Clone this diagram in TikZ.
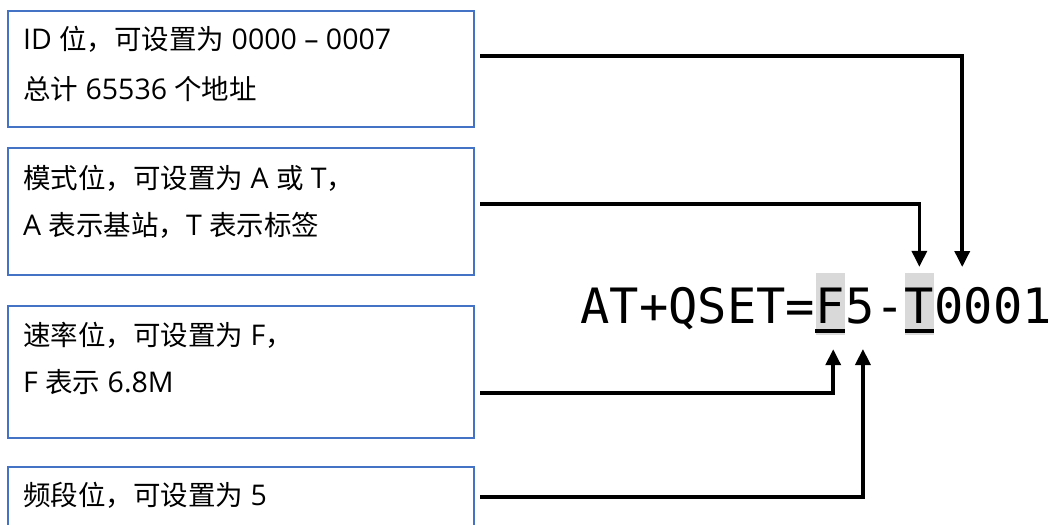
\documentclass[tikz,border=0pt]{standalone}
\usepackage{fontspec}
\usetikzlibrary{arrows.meta,calc}
\newfontfamily\cjk{Noto Sans CJK SC}
\newfontfamily\latn{Open Sans}
\newfontfamily\mono{DejaVu Sans Mono}
\newcommand\zhtxt[1]{{\cjk\fontsize{27.5}{33}\selectfont #1}}
\definecolor{boxblue}{HTML}{4472C4}
\definecolor{hlgray}{HTML}{D9D9D9}
\tikzset{
  infobox/.style={draw=boxblue, line width=2pt, anchor=north west, minimum width=466pt, inner sep=0pt},
  infotext/.style={anchor=base west, inner sep=0pt, font=\latn\fontsize{28.5}{33}\selectfont},
  code/.style={anchor=base west, inner sep=0pt, font=\mono\fontsize{48.7}{58}\selectfont},
  hl/.style={fill=hlgray, text height=50pt, text depth=12pt},
  uline/.style={line width=4pt},
  conn/.style={line width=3.5pt, -{Triangle[width=15pt,length=16pt]}},
}
\begin{document}
\begin{tikzpicture}[x=1pt,y=-1pt]
\useasboundingbox (0,0) rectangle (1050,525);
% boxes
\node[infobox, minimum height=116pt] (b1) at (7,10) {};
\node[infobox, minimum height=127pt] (b2) at (7,147) {};
\node[infobox, minimum height=132pt] (b3) at (7,305) {};
\node[infobox, minimum height=100pt] (b4) at (7,466) {};
% texts
\node[infotext] (t1a) at (23,49) {ID \zhtxt{位，可设置为} 0000 – 0007};
\node[infotext] (t1b) at (23,99) {\zhtxt{总计} 65536 \zhtxt{个地址}};
\node[infotext] (t2a) at (23,188) {\zhtxt{模式位，可设置为} A \zhtxt{或} T\zhtxt{，}};
\node[infotext] (t2b) at (23,235) {A \zhtxt{表示基站，}T \zhtxt{表示标签}};
\node[infotext] (t3a) at (23,345) {\zhtxt{速率位，可设置为} F\zhtxt{，}};
\node[infotext] (t3b) at (23,392) {F \zhtxt{表示} 6.8M};
\node[infotext] (t4a) at (23,505) {\zhtxt{频段位，可设置为} 5};
% code string
\node[code] (pre) at (580.4,323) {AT+QSET=};
\node[code, hl] (cF) at (pre.base east) {F};
\node[code] (c5) at (cF.base east) {5};
\node[code] (dash) at (c5.base east) {-};
\node[code, hl] (cT) at (dash.base east) {T};
\node[code] (num) at (cT.base east) {0001};
\draw[uline] ($(cF.base west)+(0,8)$) -- ($(cF.base east)+(0,8)$);
\draw[uline] ($(cT.base west)+(0,8)$) -- ($(cT.base east)+(0,8)$);
% connectors
\coordinate (s1) at ($(b1.north east)+(5,46)$);
\coordinate (s2) at ($(b2.north east)+(5,57)$);
\coordinate (s3) at ($(b3.north east)+(5,88)$);
\coordinate (s4) at ($(b4.north east)+(5,31)$);
\draw[conn] (s1) -| ($(num.base west)+(28,-56)$);
\draw[conn] (s2) -| ($(cT.north)+(0,-6)$);
\draw[conn] (s3) -| ($(cF.south)+(3,14)$);
\draw[conn] (s4) -| ($(c5.base)+(3,26)$);
\end{tikzpicture}
\end{document}
